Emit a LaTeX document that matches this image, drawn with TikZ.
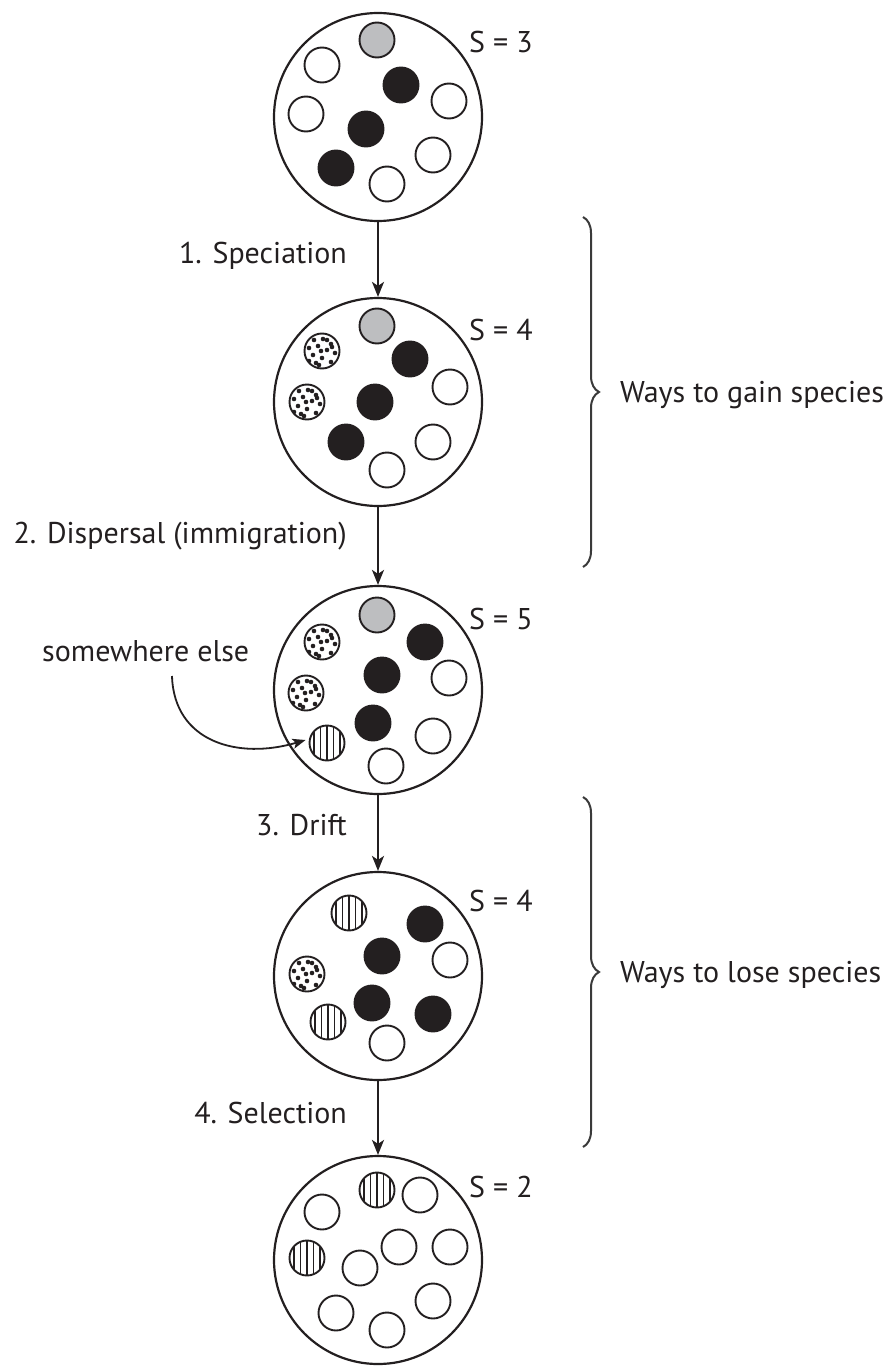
\documentclass[tikz,border=0pt]{standalone}
\usepackage{fontspec}
\setmainfont{PT Sans}
\usetikzlibrary{arrows.meta,decorations.pathreplacing}
\definecolor{ink}{HTML}{231F20}
\definecolor{grayfill}{HTML}{BDBEC0}
\definecolor{bracegray}{HTML}{3A3A3A}
\begin{document}
\begin{tikzpicture}[x=1pt,y=-1pt,
  bigring/.style={circle,draw=ink,line width=2.2pt,minimum size=208pt,inner sep=0pt},
  spbase/.style={circle,draw=ink,line width=1.9pt,minimum size=35pt,inner sep=0pt},
  spwhite/.style={spbase,fill=white},
  spblack/.style={spbase,fill=ink},
  spgray/.style={spbase,fill=grayfill},
  spdot/.style={spbase,fill=white,path picture={
    \foreach \a/\b in {-8/11,1/12,9/7,-13/3,-4/5,5/1,13/-2,-9/-4,0/-7,9/-11,-3/-14,-13/-10,5/11,-6/-12,-1/0,10/4}
      \fill[ink] ([shift={(\a pt,\b pt)}]path picture bounding box.center) circle[radius=2.3pt];}},
  spstripe/.style={spbase,fill=white,path picture={
    \foreach \d in {-13,-6.5,0,6.5,13}
      \draw[ink,line width=1.9pt] ([shift={(\d pt,-20pt)}]path picture bounding box.center) -- ++(0pt,40pt);}},
  lab/.style={font=\fontsize{30}{36}\selectfont,text=ink,inner sep=0pt},
  flow/.style={draw=ink,line width=2pt,-{Stealth[length=15pt,width=12pt,inset=4pt]}},
  brc/.style={draw=bracegray,line width=2pt,decorate,decoration={brace,amplitude=16pt}}]
\useasboundingbox (0,0) rectangle (896,1367);

% community 1
\node[bigring] (c1) at (378,117) {};
\node[spgray]  (a1) at (377,40) {};
\node[spwhite] (a2) at (322,65) {};
\node[spblack] (a3) at (401,85) {};
\node[spwhite] (a4) at (306,114) {};
\node[spwhite] (a5) at (449,101) {};
\node[spblack] (a6) at (366,129) {};
\node[spwhite] (a7) at (433,155) {};
\node[spblack] (a8) at (336,168) {};
\node[spwhite] (a9) at (387,184) {};
\node[lab,anchor=base west] (s1) at (469,53) {S = 3};

% community 2
\node[bigring] (c2) at (378,402) {};
\node[spgray]  (b1) at (377,326) {};
\node[spdot]   (b2) at (322,351) {};
\node[spblack] (b3) at (410,359) {};
\node[spwhite] (b4) at (450,387) {};
\node[spdot]   (b5) at (307,402) {};
\node[spblack] (b6) at (375,402) {};
\node[spwhite] (b7) at (433,442) {};
\node[spblack] (b8) at (346,442) {};
\node[spwhite] (b9) at (387,470) {};
\node[lab,anchor=base west] (s2) at (469,340) {S = 4};

% community 3
\node[bigring] (c3) at (378,690) {};
\node[spgray]   (d1) at (377,615) {};
\node[spdot]    (d2) at (322,642) {};
\node[spblack]  (d3) at (425,642) {};
\node[spblack]  (d4) at (382,675) {};
\node[spwhite]  (d5) at (449,678) {};
\node[spdot]    (d6) at (306,693) {};
\node[spblack]  (d7) at (373,723) {};
\node[spwhite]  (d8) at (433,736) {};
\node[spstripe] (d9) at (327,743) {};
\node[spwhite]  (d10) at (386,766) {};
\node[lab,anchor=base west] (s3) at (469,629) {S = 5};

% community 4
\node[bigring] (c4) at (378,976) {};
\node[spstripe] (e1) at (349,913) {};
\node[spblack]  (e2) at (425,924) {};
\node[spblack]  (e3) at (382,956) {};
\node[spwhite]  (e4) at (450,960) {};
\node[spdot]    (e5) at (307,974) {};
\node[spblack]  (e6) at (372,1003) {};
\node[spblack]  (e7) at (433,1014) {};
\node[spstripe] (e8) at (328,1022) {};
\node[spwhite]  (e9) at (387,1043) {};
\node[lab,anchor=base west] (s4) at (469,911) {S = 4};

% community 5
\node[bigring] (c5) at (378,1260) {};
\node[spstripe] (f1) at (377,1190) {};
\node[spwhite]  (f2) at (420,1195) {};
\node[spwhite]  (f3) at (322,1212) {};
\node[spstripe] (f4) at (307,1258) {};
\node[spwhite]  (f5) at (399,1247) {};
\node[spwhite]  (f6) at (450,1247) {};
\node[spwhite]  (f7) at (360,1268) {};
\node[spwhite]  (f8) at (433,1301) {};
\node[spwhite]  (f9) at (336,1313) {};
\node[spwhite]  (f10) at (387,1330) {};
\node[lab,anchor=base west] (s5) at (469,1197) {S = 2};

% process arrows and labels
\draw[flow] (c1) -- (c2);
\draw[flow] (c2) -- (c3);
\draw[flow] (c3) -- (c4);
\draw[flow] (c4) -- (c5);
\node[lab,anchor=base east] (l1) at (347,263) {1. Speciation};
\node[lab,anchor=base east] (l2) at (347,543) {2. Dispersal (immigration)};
\node[lab,anchor=base east] (l3) at (347,835) {3. Drift};
\node[lab,anchor=base east] (l4) at (347,1123) {4. Selection};

% immigration from somewhere else
\node[lab,anchor=base west] (else) at (42,661) {somewhere else};
\coordinate (elsefoot) at (172,676);
\draw[draw=ink,line width=1.8pt,-{Stealth[length=13pt,width=10pt,inset=3pt]}]
  (elsefoot) .. controls (174,742) and (238,760) .. ([xshift=-3pt,yshift=3pt]d9.west);

% braces
\coordinate (g1) at (583,217);
\coordinate (g2) at (583,567);
\coordinate (h1) at (583,797);
\coordinate (h2) at (583,1147);
\draw[brc] (g1) -- (g2);
\draw[brc] (h1) -- (h2);
\node[lab,anchor=base west] (gain) at (620,402) {Ways to gain species};
\node[lab,anchor=base west] (lose) at (620,982) {Ways to lose species};
\end{tikzpicture}
\end{document}
